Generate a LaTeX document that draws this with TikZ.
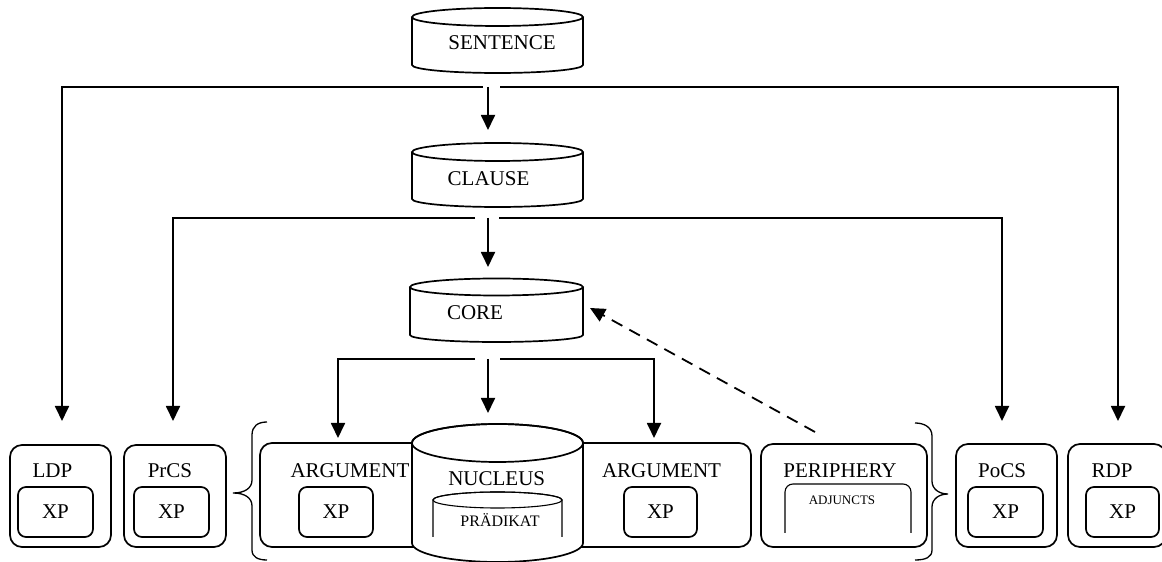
\documentclass[tikz,border=0pt]{standalone}
\usepackage{fontspec}
\setmainfont{Liberation Serif}
\usetikzlibrary{arrows.meta}

\tikzset{
  line/.style={line width=1.7pt},
  thinline/.style={line width=1.1pt},
  arr/.style={line width=1.8pt,-{Triangle[length=15pt,width=14pt]}},
  box/.style={draw,line width=1.7pt,rounded corners=12pt,inner sep=0pt},
  xpbox/.style={draw,line width=1.7pt,rounded corners=8pt,inner sep=0pt,
    minimum width=75pt,minimum height=50pt,font=\fontsize{21}{25}\selectfont},
  lbl/.style={font=\fontsize{21}{25}\selectfont,inner sep=0pt,anchor=base},
}

\begin{document}
\begin{tikzpicture}[x=1pt,y=1pt]
    \useasboundingbox (0,0) rectangle (1162,562);
    \clip (0,0) rectangle (1162,562);
    % Cylinders
    \draw[line] (412,545) -- (412,497) arc[start angle=180,end angle=360,x radius=85.5,y radius=8] -- (583,545);
    \draw[line] (497.5,545) ellipse[x radius=85.5,y radius=9];
    \node[lbl] (sentence) at (502,512) {SENTENCE};
    \draw[line] (412,410) -- (412,363) arc[start angle=180,end angle=360,x radius=85.5,y radius=8] -- (583,410);
    \draw[line] (497.5,410) ellipse[x radius=85.5,y radius=9];
    \node[lbl] (clause) at (488.5,376) {CLAUSE};
    \draw[line] (410,275) -- (410,227) arc[start angle=180,end angle=360,x radius=86.5,y radius=7] -- (583,275);
    \draw[line] (496.5,275) ellipse[x radius=86.5,y radius=8.5];
    \node[lbl] (core) at (475,242) {CORE};
    % Outer boxes
    \node[box,minimum width=101pt,minimum height=102pt] (ldp) at (60.5,66) {};
    \node[lbl] (ldptxt) at (52.5,84) {LDP};
    \node[xpbox] (ldpxp) at (55.5,50) {XP};
    \node[box,minimum width=102pt,minimum height=102pt] (prcs) at (175,66) {};
    \node[lbl] (prcstxt) at (170,84) {PrCS};
    \node[xpbox] (prcsxp) at (171.5,50) {XP};
    \node[box,minimum width=101pt,minimum height=103pt] (pocs) at (1006.5,66.5) {};
    \node[lbl] (pocstxt) at (1002,84) {PoCS};
    \node[xpbox] (pocsxp) at (1005.5,50) {XP};
    \node[box,minimum width=98pt,minimum height=103pt] (rdp) at (1117,66.5) {};
    \node[lbl] (rdptxt) at (1112,84) {RDP};
    \node[xpbox,minimum width=73pt] (rdpxp) at (1122.5,50) {XP};
    % Core layer
    \node[box,minimum width=491pt,minimum height=104pt] (args) at (505.5,67) {};
    \node[lbl] (argl) at (350,84) {ARGUMENT};
    \node[xpbox,minimum width=74pt] (arglxp) at (336,50) {XP};
    \node[lbl] (argr) at (661.5,84) {ARGUMENT};
    \node[xpbox,minimum width=73pt] (argrxp) at (660.5,50) {XP};
    \draw[line,fill=white] (412,119) -- (412,19) arc[start angle=180,end angle=360,x radius=85.5,y radius=19]
      -- (583,119) arc[start angle=0,end angle=180,x radius=85.5,y radius=19];
    \draw[line] (497.5,119) ellipse[x radius=85.5,y radius=19];
    \node[lbl] (nucleus) at (496.7,76) {NUCLEUS};
    \draw[thinline] (433,25) -- (433,62) arc[start angle=180,end angle=0,x radius=64.5,y radius=8] -- (562,25);
    \draw[thinline] (497.5,62) ellipse[x radius=64.5,y radius=8];
    \node[lbl,font=\fontsize{16}{19}\selectfont] (pred) at (500,35) {PRÄDIKAT};
    \node[box,minimum width=166pt,minimum height=103pt] (peri) at (844,66.5) {};
    \node[lbl] (peritxt) at (840,84) {PERIPHERY};
    \draw[thinline,rounded corners=8pt] (785,29) -- (785,78) -- (911,78) -- (911,29);
    \node[lbl,font=\fontsize{13}{15}\selectfont] (adj) at (842,57) {ADJUNCTS};
    % Braces
    \draw[line width=1.3pt] (267,140) .. controls (258,140) and (252,136) .. (252,127) -- (252,82)
      .. controls (252,74) and (245,69) .. (233,69) .. controls (245,69) and (252,64) .. (252,56)
      -- (252,12) .. controls (252,5) and (258,2) .. (267,2);
    \draw[line width=1.3pt] (915,139) .. controls (924,139) and (932,135) .. (932,126) -- (932,81)
      .. controls (932,73) and (939,68) .. (948,68) .. controls (939,68) and (932,63) .. (932,55)
      -- (932,12) .. controls (932,5) and (926,2) .. (915,2);
    % Connector ends
    \coordinate (s-l) at (483,475);
    \coordinate (s-r) at (500,475);
    \coordinate (s-c) at (488,475);
    \coordinate (c-l) at (475,344);
    \coordinate (c-r) at (499,344);
    \coordinate (c-c) at (488,344);
    \coordinate (k-l) at (475,203);
    \coordinate (k-r) at (500,203);
    \coordinate (k-c) at (488,203);
    \coordinate (ldp-in) at (62,141);
    \coordinate (rdp-in) at (1118,141);
    \coordinate (prcs-in) at (173,141);
    \coordinate (pocs-in) at (1002,141);
    \coordinate (clause-in) at (488,432);
    \coordinate (core-in) at (488,295);
    \coordinate (argl-in) at (338,124);
    \coordinate (argr-in) at (654,124);
    \coordinate (nuc-in) at (488,149);
    \coordinate (peri-out) at (815,130);
    \coordinate (core-side) at (590,254);
    % Connectors
    \draw[arr] (s-l) -| (ldp-in);
    \draw[arr] (s-r) -| (rdp-in);
    \draw[arr] (s-c) -- (clause-in);
    \draw[arr] (c-l) -| (prcs-in);
    \draw[arr] (c-r) -| (pocs-in);
    \draw[arr] (c-c) -- (core-in);
    \draw[arr] (k-l) -| (argl-in);
    \draw[arr] (k-r) -| (argr-in);
    \draw[arr] (k-c) -- (nuc-in);
    \draw[arr,dash pattern=on 12pt off 8pt] (peri-out) -- (core-side);
\end{tikzpicture}
\end{document}
